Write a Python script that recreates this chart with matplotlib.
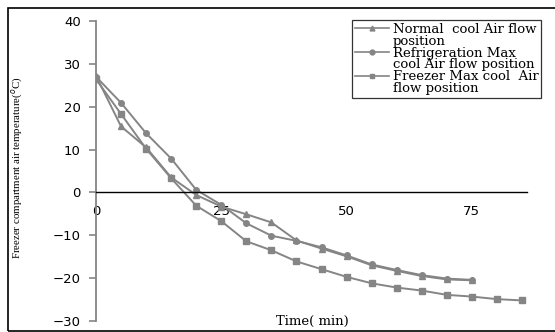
import numpy as np
import matplotlib
matplotlib.use("Agg")
from matplotlib import pyplot as plt
from matplotlib.lines import Line2D
from matplotlib.patches import Rectangle


# time in minutes
time_a = [0, 5, 10, 15, 20, 25, 30, 35, 40, 45, 50, 55, 60, 65, 70, 75]
time_b = [0, 5, 10, 15, 20, 25, 30, 35, 40, 45, 50, 55, 60, 65, 70, 75, 80, 85]

normal_cool = [27.2, 15.4, 10.5, 3.5, -0.6, -3.3, -5.1, -7.0, -11.2, -13.1,
               -14.9, -17.0, -18.3, -19.5, -20.3, -20.5]
refrig_max = [27.0, 20.9, 13.8, 7.9, 0.6, -2.9, -7.2, -10.1, -11.3, -12.8,
              -14.7, -16.8, -18.1, -19.3, -20.1, -20.4]
freezer_max = [26.4, 18.3, 10.2, 3.3, -3.1, -6.7, -11.4, -13.5, -16.1, -17.9,
               -19.7, -21.2, -22.2, -22.9, -23.9, -24.3, -24.9, -25.2]

legend_lines = ["Normal  cool Air flow", "position",
                "Refrigeration Max", "cool Air flow position",
                "Freezer Max cool  Air", "flow position"]

yticks = [-30, -20, -10, 0, 10, 20, 30, 40]
xticks = [0, 25, 50, 75]

gray = "#858585"
serif = "DejaVu Serif"
sans = "DejaVu Sans"

fig = plt.figure(figsize=(5.55, 3.32), dpi=100)
fig.patch.set_facecolor("white")

# outer frame (runs off the right edge like the original)
fig.add_artist(Rectangle((8 / 555, 1 / 332), 1.2, 323 / 332, transform=fig.transFigure,
                         fill=False, edgecolor="black", linewidth=1.2))

ax = fig.add_axes([96 / 555, 11 / 332, (527 - 96) / 555, 300 / 332])
ax.set_xlim(0, 86)
ax.set_ylim(-30, 40)

ax.plot(time_a, normal_cool, color=gray, marker="^", markersize=4.5, linewidth=1.4)
ax.plot(time_a, refrig_max, color=gray, marker="o", markersize=4, linewidth=1.4)
ax.plot(time_b, freezer_max, color=gray, marker="s", markersize=4, linewidth=1.4)

for s in ["top", "right"]:
    ax.spines[s].set_visible(False)
ax.spines["left"].set_color(gray)
ax.spines["left"].set_linewidth(1.3)
ax.spines["bottom"].set_position(("data", 0))
ax.spines["bottom"].set_color("black")
ax.spines["bottom"].set_linewidth(1.0)

ax.set_yticks(yticks)
ax.set_xticks(xticks)
ax.tick_params(axis="y", direction="out", length=5, width=1.2, color=gray, pad=6,
               labelsize=9.5)
ax.tick_params(axis="x", length=0, pad=9, labelsize=9.5)
for lab in ax.get_xticklabels() + ax.get_yticklabels():
    lab.set_family(sans)

fig.text(312 / 555, 1 - 321 / 332, "Time( min)", family=serif, fontsize=9.5,
         ha="center", va="center")
fig.text(17 / 555, 1 - 168 / 332, "Freezer compartment air temperature($^{o}$C)",
         family="Liberation Serif", fontsize=7.8, rotation=90, ha="center", va="center")

markers = ["^", None, "o", None, "s", None]
handles = []
for m in markers:
    if m is None:
        handles.append(Line2D([], [], color="none"))
    else:
        handles.append(Line2D([], [], color=gray, marker=m, markersize=3.5, linewidth=1.2))
leg = fig.legend(handles, legend_lines, loc="upper left",
                 bbox_to_anchor=(352 / 555, 1 - 20 / 332),
                 prop={"family": serif, "size": 9.5}, frameon=True, fancybox=False,
                 labelspacing=-0.08, handlelength=2.6, handletextpad=0.3,
                 handleheight=0.5, borderpad=0.2, borderaxespad=0)
leg.get_frame().set_edgecolor("black")
leg.get_frame().set_linewidth(0.9)

fig.savefig("out.png", dpi=100)
